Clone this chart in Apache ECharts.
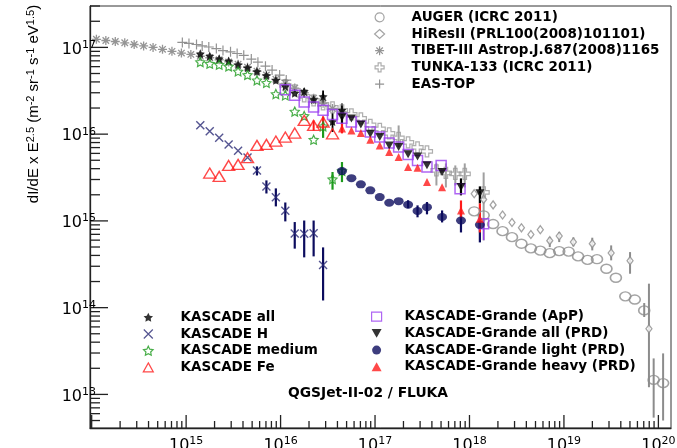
<!DOCTYPE html>
<html>
<head>
<meta charset="utf-8">
<script src="https://cdn.jsdelivr.net/npm/echarts@6/dist/echarts.min.js"></script>
<style>
  html, body { margin: 0; padding: 0; background: #fff; }
  #chart { width: 677px; height: 448px; }
</style>
</head>
<body>
<div id="chart"></div>
<script>
// ---------- axis ranges and tick decades ----------
const X_MIN = 9.6e13, X_MAX = 1.36e20;
const Y_MIN = 4.1e12, Y_MAX = 3.0e17;
const xTickDecades = [14, 15, 16, 17, 18, 19, 20];
const xLabelExps = [15, 16, 17, 18, 19, 20];
const yTickDecades = [12, 13, 14, 15, 16, 17];
const yLabelExps = [13, 14, 15, 16, 17];

// ---------- data: lg(E/eV) and dI/dE x E^2.5 ----------
const augerLgE = [18.05, 18.15, 18.25, 18.35, 18.45, 18.55, 18.65, 18.75, 18.85, 18.95, 19.05,
                  19.15, 19.25, 19.35, 19.45, 19.55, 19.65, 19.75, 19.85, 19.95, 20.05];
const augerFlux = [1.29e15, 1.16e15, 9.2e14, 7.62e14, 6.5e14, 5.46e14, 4.82e14, 4.54e14, 4.25e14, 4.48e14, 4.43e14,
                   3.9e14, 3.55e14, 3.62e14, 2.81e14, 2.21e14, 1.35e14, 1.24e14, 9.3e13, 1.47e13, 1.35e13];
const augerErr = [[19.85, 7.8e13, 1.13e14], [19.95, 5.4e12, 2.6e13], [20.05, 5.0e12, 2.97e13]];

const hiresLgE = [18.05, 18.15, 18.25, 18.35, 18.45, 18.55, 18.65, 18.75, 18.85, 18.95, 19.1, 19.3, 19.5, 19.7, 19.9];
const hiresFlux = [2.06e15, 1.77e15, 1.53e15, 1.17e15, 9.6e14, 8.32e14, 6.98e14, 7.92e14, 5.92e14, 6.7e14,
                   5.71e14, 5.47e14, 4.26e14, 3.48e14, 5.71e13];
const hiresErr = [[18.85, 4.99e14, 6.5e14], [18.95, 5.7e14, 7.43e14], [19.1, 5.08e14, 6.46e14],
                  [19.3, 4.57e14, 6.4e14], [19.5, 3.51e14, 5.22e14], [19.7, 2.46e14, 4.37e14], [19.9, 1.21e13, 1.89e14]];

const tibetLgE = [14.05, 14.15, 14.25, 14.35, 14.45, 14.55, 14.65, 14.75, 14.85, 14.95, 15.05, 15.15, 15.25, 15.35,
                  15.45, 15.55, 15.65, 15.75, 15.85, 15.95, 16.05, 16.15, 16.25, 16.35, 16.45, 16.55, 16.65];
const tibetFlux = [1.24e17, 1.20e17, 1.17e17, 1.13e17, 1.08e17, 1.04e17, 1.00e17, 9.5e16, 9.0e16, 8.6e16, 8.3e16,
                   7.9e16, 7.6e16, 7.2e16, 6.8e16, 6.4e16, 5.9e16, 5.3e16, 4.8e16, 4.3e16, 3.85e16, 3.4e16,
                   3.0e16, 2.6e16, 2.27e16, 1.98e16, 1.8e16];

const tunkaLgE = [16.05, 16.15, 16.25, 16.35, 16.45, 16.55, 16.65, 16.75, 16.85, 16.95, 17.05, 17.15, 17.25,
                  17.35, 17.45, 17.55, 17.65, 17.75, 17.85, 17.95, 18.15];
const tunkaFlux = [3.65e16, 3.19e16, 2.72e16, 2.45e16, 2.20e16, 2.03e16, 1.88e16, 1.69e16, 1.52e16, 1.28e16,
                   1.15e16, 1.02e16, 9.06e15, 8.04e15, 7.04e15, 6.32e15, 3.82e15, 3.57e15, 3.48e15, 3.48e15, 2.13e15];
const tunkaErr = [[17.25, 7.1e15, 1.26e16], [17.65, 2.56e15, 4.6e15], [17.75, 2.43e15, 4.6e15],
                  [17.85, 2.56e15, 4.36e15], [17.95, 2.43e15, 4.6e15], [18.15, 5.96e14, 3.62e15]];

const eastopLgE = [14.96, 15.03, 15.11, 15.17, 15.24, 15.32, 15.39, 15.47, 15.54, 15.61, 15.69, 15.76, 15.84,
                   15.91, 15.99, 16.06];
const eastopFlux = [1.14e17, 1.11e17, 1.08e17, 1.04e17, 1.01e17, 9.7e16, 9.2e16, 8.9e16, 8.5e16, 8.1e16,
                    7.33e16, 6.76e16, 6.08e16, 5.47e16, 4.79e16, 4.2e16];

const kasAllLgE = [15.15, 15.25, 15.35, 15.45, 15.55, 15.65, 15.75, 15.85, 15.95, 16.05, 16.15, 16.25, 16.35,
                   16.45, 16.55, 16.65];
const kasAllFlux = [8.46e16, 7.94e16, 7.4e16, 6.95e16, 6.3e16, 5.83e16, 5.28e16, 4.75e16, 4.17e16, 3.55e16,
                    2.97e16, 3.11e16, 2.5e16, 2.72e16, 1.40e16, 1.88e16];
const kasAllErr = [[16.25, 2.65e16, 3.36e16], [16.35, 2.26e16, 2.82e16], [16.45, 2.26e16, 3.19e16],
                   [16.55, 1.06e16, 1.75e16], [16.65, 1.52e16, 2.26e16]];

const kasHLgE = [15.15, 15.25, 15.35, 15.45, 15.55, 15.65, 15.75, 15.85, 15.95, 16.05, 16.15, 16.25, 16.35, 16.45];
const kasHFlux = [1.27e16, 1.08e16, 9.06e15, 7.62e15, 6.43e15, 5.37e15, 3.82e15, 2.49e15, 1.87e15, 1.31e15,
                  7.18e14, 7.12e14, 7.2e14, 3.11e14];
const kasHErr = [[15.75, 3.34e15, 4.25e15], [15.85, 2.07e15, 2.93e15], [15.95, 1.47e15, 2.37e15],
                 [16.05, 9.87e14, 1.63e15], [16.15, 4.79e14, 9.7e14], [16.25, 3.8e14, 1.01e15],
                 [16.35, 3.9e14, 1.01e15], [16.45, 1.21e14, 4.95e14]];

const kasMedLgE = [15.15, 15.25, 15.35, 15.45, 15.55, 15.65, 15.75, 15.85, 15.95, 16.05, 16.15, 16.25, 16.35,
                   16.45, 16.55, 16.65];
const kasMedFlux = [6.78e16, 6.49e16, 6.32e16, 6.04e16, 5.29e16, 4.82e16, 4.17e16, 3.9e16, 2.9e16, 2.8e16,
                    1.82e16, 1.62e16, 8.63e15, 1.23e16, 3.03e15, 3.77e15];
const kasMedErr = [[16.45, 9.06e15, 1.58e16], [16.55, 2.29e15, 3.66e15], [16.65, 2.8e15, 4.77e15]];

const kasFeLgE = [15.25, 15.35, 15.45, 15.55, 15.65, 15.75, 15.85, 15.95, 16.05, 16.15, 16.25, 16.35, 16.45, 16.55];
const kasFeFlux = [3.56e15, 3.26e15, 4.36e15, 4.48e15, 5.35e15, 7.42e15, 7.62e15, 8.32e15, 9.25e15, 1.03e16,
                   1.44e16, 1.26e16, 1.38e16, 1.01e16];
const kasFeErr = [[16.35, 1.1e16, 1.44e16], [16.45, 1.12e16, 1.6e16]];

const kgAppLgE = [16.05, 16.15, 16.25, 16.35, 16.45, 16.55, 16.65, 16.75, 16.85, 16.95, 17.05, 17.15, 17.25,
                  17.35, 17.45, 17.55, 17.7, 17.9, 18.15];
const kgAppFlux = [3.25e16, 2.80e16, 2.34e16, 2.05e16, 1.88e16, 1.69e16, 1.52e16, 1.38e16, 1.23e16, 1.06e16,
                   9.25e15, 7.89e15, 7.09e15, 5.84e15, 4.98e15, 4.17e15, 4.36e15, 2.35e15, 9.3e14];
const kgAppErr = [[18.15, 6.0e14, 1.07e15]];

const kgPrdLgE = [16.65, 16.75, 16.85, 16.95, 17.05, 17.15, 17.25, 17.35, 17.45, 17.55, 17.71, 17.91, 18.11];
const kgAllFlux = [1.57e16, 1.51e16, 1.29e16, 1.01e16, 9.25e15, 7.42e15, 7.1e15, 5.85e15, 5.54e15, 4.37e15,
                   3.66e15, 2.46e15, 2.09e15];
const kgAllErr = [[16.65, 1.3e16, 1.88e16], [17.91, 1.97e15, 3.09e15], [18.11, 1.59e15, 2.5e15]];
const kgLightFlux = [3.75e15, 3.11e15, 2.64e15, 2.25e15, 1.88e15, 1.62e15, 1.69e15, 1.54e15, 1.30e15, 1.44e15,
                     1.11e15, 1.01e15, 9.0e14];
const kgLightErr = [[17.35, 1.4e15, 1.73e15], [17.45, 1.1e15, 1.51e15], [17.55, 1.19e15, 1.65e15],
                    [17.71, 9.6e14, 1.32e15], [17.91, 7.36e14, 1.25e15], [18.11, 5.65e14, 1.01e15]];
const kgHeavyFlux = [1.16e16, 1.10e16, 1.03e16, 8.63e15, 7.42e15, 6.21e15, 5.44e15, 4.17e15, 4.10e15, 2.80e15,
                     2.45e15, 1.32e15, 1.06e15];
const kgHeavyErr = [[16.65, 1.02e16, 1.33e16], [17.91, 1.07e15, 1.72e15], [18.11, 7.36e14, 1.59e15]];

// ---------- marker shapes ----------
const STAR = 'path://M0,-10L2.94,-4.05L9.51,-3.09L4.76,1.55L5.88,8.09L0,5L-5.88,8.09L-4.76,1.55L-9.51,-3.09L-2.94,-4.05Z';
const XMARK = 'path://M-5,-5L5,5M-5,5L5,-5';
const ASTER = 'path://M0,-5L0,5M-5,0L5,0M-3.6,-3.6L3.6,3.6M-3.6,3.6L3.6,-3.6';
const PLUS = 'path://M0,-5L0,5M-5,0L5,0';
const OPEN_CROSS = 'path://M-1.6,-5L1.6,-5L1.6,-1.6L5,-1.6L5,1.6L1.6,1.6L1.6,5L-1.6,5L-1.6,1.6L-5,1.6L-5,-1.6L-1.6,-1.6Z';
const TRI_DOWN = 'path://M-5,-4.3L5,-4.3L0,4.3Z';

const GRAY = '#8c8c8c', NAVY = '#0c0c5e', GREEN = '#1c9a1c', RED = '#ff1a1a', PURPLE = '#9b40f0';

const toE = lg => Math.pow(10, lg);

function scatter(name, lg, flux, symbol, size, style) {
  return {
    type: 'scatter', name, silent: true, z: 3,
    data: lg.map((l, i) => [toE(l), flux[i]]),
    symbol, symbolSize: size, itemStyle: style
  };
}

// vertical error bars: each entry is [lgE, low, high]
function errorBars(list, color, width) {
  return {
    type: 'custom', silent: true, z: 3, clip: true,
    data: list.map(b => [toE(b[0]), b[1], b[2]]),
    encode: { x: 0, y: [1, 2] },
    renderItem(params, api) {
      const x = api.value(0);
      const a = api.coord([x, api.value(1)]);
      const b = api.coord([x, api.value(2)]);
      return { type: 'line', shape: { x1: a[0], y1: a[1], x2: b[0], y2: b[1] },
               style: { stroke: color, lineWidth: width } };
    }
  };
}

// ---------- log ticks with 10^n labels ----------
const tickFont = 'DejaVu Sans';
const powRich = {
  b: { fontFamily: tickFont, fontSize: 16, lineHeight: 20, color: '#222' },
  e: { fontFamily: tickFont, fontSize: 11, lineHeight: 8, verticalAlign: 'top', color: '#222' }
};

function tickList(decades, lo, hi) {
  const out = [];
  decades.forEach(d => {
    for (let m = 1; m <= 9; m++) {
      const v = m * Math.pow(10, d);
      if (v >= lo && v <= hi) out.push([v, m === 1 ? 1 : 0, d]);
    }
  });
  return out;
}

const xTicks = {
  type: 'custom', silent: true, z: 5, clip: false,
  data: tickList(xTickDecades, X_MIN, X_MAX).map(t => [t[0], Y_MIN, t[1], t[2]]),
  encode: { x: 0, y: 1 },
  renderItem(params, api) {
    const p = api.coord([api.value(0), Y_MIN]);
    const major = api.value(2) === 1, d = api.value(3);
    const len = major ? 13 : 7;
    const kids = [{ type: 'line', shape: { x1: p[0], y1: p[1], x2: p[0], y2: p[1] - len },
                    style: { stroke: '#222', lineWidth: 1.3 } }];
    if (major && xLabelExps.indexOf(d) >= 0) {
      kids.push({ type: 'text', x: p[0], y: p[1] + 8,
        style: { text: '{b|10}{e|' + d + '}', rich: powRich, align: 'center', verticalAlign: 'top' } });
    }
    return { type: 'group', children: kids };
  }
};

const yTicks = {
  type: 'custom', silent: true, z: 5, clip: false,
  data: tickList(yTickDecades, Y_MIN, Y_MAX).map(t => [X_MIN, t[0], t[1], t[2]]),
  encode: { x: 0, y: 1 },
  renderItem(params, api) {
    const p = api.coord([X_MIN, api.value(1)]);
    const major = api.value(2) === 1, d = api.value(3);
    const len = major ? 18 : 10;
    const kids = [{ type: 'line', shape: { x1: p[0], y1: p[1], x2: p[0] + len, y2: p[1] },
                    style: { stroke: '#222', lineWidth: 1.3 } }];
    if (major && yLabelExps.indexOf(d) >= 0) {
      kids.push({ type: 'text', x: p[0] + 6, y: p[1] + 2,
        style: { text: '{b|10}{e|' + d + '}', rich: powRich, align: 'right', verticalAlign: 'middle' } });
    }
    return { type: 'group', children: kids };
  }
};

// ---------- series ----------
const N = {
  auger: 'AUGER (ICRC 2011)',
  hires: 'HiResII (PRL100(2008)101101)',
  tibet: 'TIBET-III Astrop.J.687(2008)1165',
  tunka: 'TUNKA-133 (ICRC 2011)',
  eastop: 'EAS-TOP',
  kasAll: 'KASCADE all',
  kasH: 'KASCADE H',
  kasMed: 'KASCADE medium',
  kasFe: 'KASCADE Fe',
  kgApp: 'KASCADE-Grande (ApP)',
  kgAll: 'KASCADE-Grande all (PRD)',
  kgLight: 'KASCADE-Grande light (PRD)',
  kgHeavy: 'KASCADE-Grande heavy (PRD)'
};

const series = [
  errorBars(augerErr, GRAY, 2),
  scatter(N.auger, augerLgE, augerFlux, 'circle', [11, 9], { color: 'transparent', borderColor: GRAY, borderWidth: 1.5 }),
  errorBars(hiresErr, GRAY, 2),
  scatter(N.hires, hiresLgE, hiresFlux, 'diamond', [6, 8], { color: '#fff', borderColor: GRAY, borderWidth: 1.3 }),
  scatter(N.tibet, tibetLgE, tibetFlux, ASTER, 9, { color: 'transparent', borderColor: '#7a7a7a', borderWidth: 1.3 }),
  errorBars(tunkaErr, '#a0a0a0', 2),
  scatter(N.tunka, tunkaLgE, tunkaFlux, OPEN_CROSS, 11, { color: 'transparent', borderColor: '#9a9a9a', borderWidth: 1.2 }),
  scatter(N.eastop, eastopLgE, eastopFlux, PLUS, 10, { color: 'transparent', borderColor: '#777', borderWidth: 1.2 }),
  errorBars(kasAllErr, '#000', 1.8),
  scatter(N.kasAll, kasAllLgE, kasAllFlux, STAR, 9, { color: '#000' }),
  errorBars(kasHErr, NAVY, 2.2),
  scatter(N.kasH, kasHLgE, kasHFlux, XMARK, 8, { color: 'transparent', borderColor: '#2b2b75', borderWidth: 1.4 }),
  errorBars(kasMedErr, GREEN, 2.2),
  scatter(N.kasMed, kasMedLgE, kasMedFlux, STAR, 9, { color: 'transparent', borderColor: GREEN, borderWidth: 1.2 }),
  errorBars(kasFeErr, RED, 2),
  scatter(N.kasFe, kasFeLgE, kasFeFlux, 'triangle', [12, 10], { color: 'transparent', borderColor: RED, borderWidth: 1.4 }),
  errorBars(kgAppErr, PURPLE, 1.5),
  scatter(N.kgApp, kgAppLgE, kgAppFlux, 'rect', 10, { color: 'transparent', borderColor: PURPLE, borderWidth: 1.5 }),
  errorBars(kgAllErr, '#000', 2.2),
  scatter(N.kgAll, kgPrdLgE, kgAllFlux, TRI_DOWN, [9, 8], { color: '#000' }),
  errorBars(kgLightErr, NAVY, 2.2),
  scatter(N.kgLight, kgPrdLgE, kgLightFlux, 'circle', [10, 8], { color: NAVY }),
  errorBars(kgHeavyErr, RED, 2.2),
  scatter(N.kgHeavy, kgPrdLgE, kgHeavyFlux, 'triangle', [8, 8], { color: RED }),
  xTicks,
  yTicks
];

// ---------- legends ----------
function legendBlock(names, left, top, textPad) {
  return {
    orient: 'vertical', left, top, padding: 0, itemGap: 2.7,
    itemWidth: 10, itemHeight: 9, selectedMode: false,
    data: names.map(n => ({ name: n, itemStyle: { borderWidth: 1.2 } })),
    formatter: '{t|{name}}',
    textStyle: {
      rich: { t: { fontFamily: 'DejaVu Sans', fontWeight: 'bold', fontSize: 13.5, lineHeight: 14,
                   color: '#000', padding: [0, 0, 0, textPad] } }
    }
  };
}

const option = {
  animation: false,
  backgroundColor: '#fff',
  grid: { left: 90, top: 6, width: 581, height: 422, show: true, borderColor: '#333', borderWidth: 1 },
  xAxis: {
    type: 'log', logBase: 10, min: X_MIN, max: X_MAX,
    axisLine: { show: true, lineStyle: { color: '#222', width: 1.3 } },
    axisTick: { show: false }, axisLabel: { show: false }, splitLine: { show: false }
  },
  yAxis: {
    type: 'log', logBase: 10, min: Y_MIN, max: Y_MAX,
    axisLine: { show: true, lineStyle: { color: '#222', width: 1.3 } },
    axisTick: { show: false }, axisLabel: { show: false }, splitLine: { show: false }
  },
  legend: [
    legendBlock([N.auger, N.hires, N.tibet, N.tunka, N.eastop], 374, 10.3, 22),
    legendBlock([N.kasAll, N.kasH, N.kasMed, N.kasFe], 142.7, 310.3, 22.3),
    legendBlock([N.kgApp, N.kgAll, N.kgLight, N.kgHeavy], 371, 309.7, 18)
  ],
  graphic: [
    {
      type: 'text', x: 34, y: 104, rotation: Math.PI / 2, silent: true,
      style: {
        text: '{n|dI/dE x E}{s|2.5}{n| (m}{s|-2}{n| sr}{s|-1}{n| s}{s|-1}{n| eV}{s|1.5}{n|)}',
        align: 'center', verticalAlign: 'middle',
        rich: {
          n: { fontFamily: 'Liberation Sans', fontSize: 15, lineHeight: 18, color: '#333' },
          s: { fontFamily: 'Liberation Sans', fontSize: 11, lineHeight: 8, verticalAlign: 'top', color: '#333' }
        }
      }
    },
    {
      type: 'text', x: 368, y: 393, silent: true,
      style: { text: 'QGSJet-II-02 / FLUKA', fontFamily: 'DejaVu Sans', fontWeight: 'bold', fontSize: 13.8,
               fill: '#000', align: 'center', verticalAlign: 'middle' }
    }
  ],
  series
};

const chart = echarts.init(document.getElementById('chart'), null, { renderer: 'canvas' });
chart.setOption(option);
</script>
</body>
</html>
